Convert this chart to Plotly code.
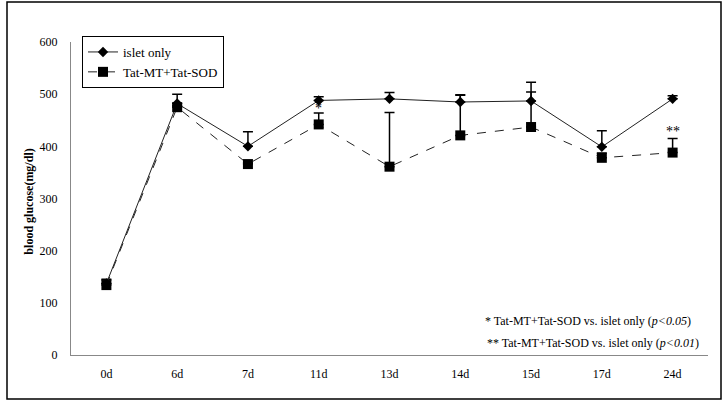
import plotly.graph_objects as go

days = ["0d", "6d", "7d", "11d", "13d", "14d", "15d", "17d", "24d"]
islet_only = [137, 482, 400, 488, 491, 485, 487, 399, 491]
islet_err = [8, 18, 28, 7, 12, 14, 36, 31, 6]
tat_mt_sod = [134, 475, 366, 442, 361, 421, 437, 378, 388]
tat_err = [10, 3, 2, 22, 104, 77, 67, 9, 27]
y_ticks = [0, 100, 200, 300, 400, 500, 600]
sig_marks = [("*", 3, 473), ("**", 8, 428)]

FONT = "Liberation Serif"
xs = list(range(len(days)))

fig = go.Figure()
fig.add_trace(go.Scatter(
    x=xs, y=islet_only, name="islet only", mode="lines+markers",
    line=dict(color="#222222", width=1),
    marker=dict(symbol="diamond", size=8, color="black"),
    error_y=dict(type="data", symmetric=False, array=islet_err,
                 arrayminus=[0] * len(days), color="black", thickness=1.5, width=5),
))
fig.add_trace(go.Scatter(
    x=xs, y=tat_mt_sod, name="Tat-MT+Tat-SOD", mode="lines+markers",
    line=dict(color="#222222", width=1, dash="dash"),
    marker=dict(symbol="square", size=10, color="black"),
    error_y=dict(type="data", symmetric=False, array=tat_err,
                 arrayminus=[0] * len(days), color="black", thickness=1.5, width=5),
))

annotations = []
for txt, xi, yv in sig_marks:
    annotations.append(dict(x=xi, y=yv, xref="x", yref="y", text=txt, showarrow=False,
                            xanchor="center", yanchor="middle",
                            font=dict(family=FONT, size=14, color="black")))

annotations.append(dict(x=(588 - 71) / 637, y=(355 - 321) / 313, xref="paper", yref="paper",
                        xanchor="center", yanchor="middle",
                        text="* Tat-MT+Tat-SOD vs. islet only (<i>p&lt;0.05</i>)",
                        showarrow=False, font=dict(family=FONT, size=12, color="black")))
annotations.append(dict(x=(593 - 71) / 637, y=(355 - 343) / 313, xref="paper", yref="paper",
                        xanchor="center", yanchor="middle",
                        text="** Tat-MT+Tat-SOD vs. islet only (<i>p&lt;0.01</i>)",
                        showarrow=False, font=dict(family=FONT, size=12, color="black")))
annotations.append(dict(x=(29 - 71) / 637, y=0.49, xref="paper", yref="paper",
                        xanchor="center", yanchor="middle",
                        text="<b>blood glucose(mg/dl)</b>", textangle=-90, showarrow=False,
                        font=dict(family=FONT, size=12, color="black")))

fig.update_layout(
    width=727, height=403,
    margin=dict(l=71, r=19, t=42, b=48),
    paper_bgcolor="white", plot_bgcolor="white",
    font=dict(family=FONT, size=12, color="black"),
    showlegend=True,
    legend=dict(x=(82 - 71) / 637, y=(355 - 36) / 313, xanchor="left", yanchor="top",
                bordercolor="black", borderwidth=1, bgcolor="white",
                font=dict(family=FONT, size=13, color="black"),
                itemwidth=30, tracegroupgap=2),
    annotations=annotations,
    shapes=[dict(type="rect", xref="paper", yref="paper",
                 x0=(7 - 71) / 637, x1=(721 - 71) / 637,
                 y0=(355 - 399) / 313, y1=(355 - 2) / 313,
                 line=dict(color="black", width=1.5), fillcolor="rgba(0,0,0,0)")],
)
fig.update_xaxes(range=[-0.5, len(days) - 0.5], tickvals=xs, ticktext=days,
                 showgrid=False, zeroline=False, showline=True, linecolor="#888888",
                 linewidth=1, ticks="", ticklabelstandoff=8,
                 tickfont=dict(family=FONT, size=12, color="black"))
fig.update_yaxes(range=[0, 600], tickvals=y_ticks, showgrid=False, zeroline=False,
                 showline=True, linecolor="#888888", linewidth=1, ticks="",
                 ticklabelstandoff=10, tickfont=dict(family=FONT, size=12, color="black"))

fig.write_html("out.html")
